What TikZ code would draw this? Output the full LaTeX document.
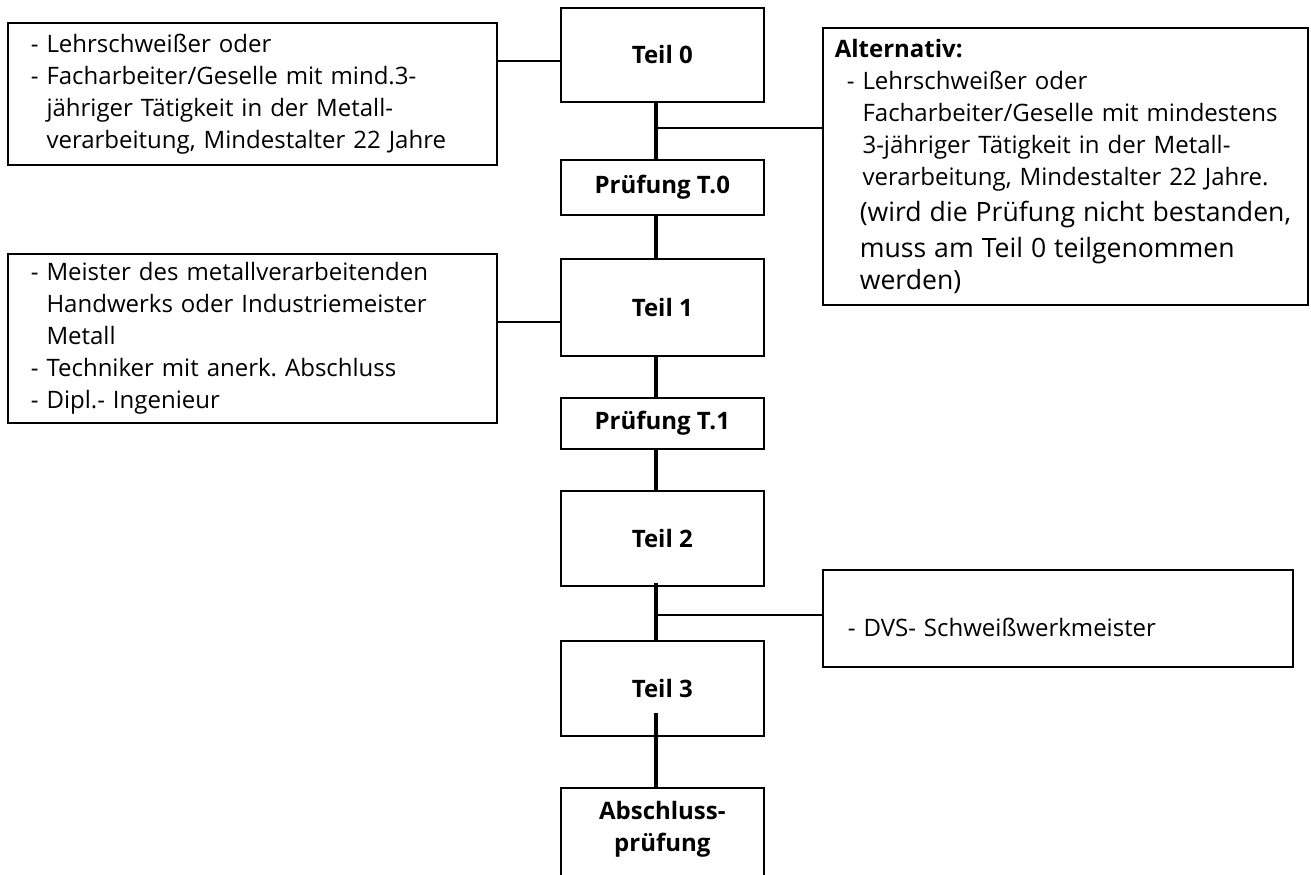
\documentclass[tikz,border=0pt]{standalone}
\usepackage{fontspec}
\setmainfont{Open Sans}
\frenchspacing
\newcommand{\weiter}{\hphantom{-\ }}
\tikzset{
  stage/.style={draw, line width=0.8pt, font=\fontsize{12}{16}\selectfont\bfseries,
    anchor=north west, inner sep=0pt, minimum width=101.5pt, align=center},
  info/.style={draw, line width=0.8pt, font=\fontsize{12}{16}\selectfont,
    anchor=north west, align=left, inner ysep=0pt},
  spine/.style={line width=2pt},
  branch/.style={line width=1pt},
}
\begin{document}
\begin{tikzpicture}[x=0.5pt,y=-0.5pt]
  \clip (0,0) rectangle (1311,874);
  % main column: parts and exams
  \node[stage, minimum height=47pt]   (t0) at (560,7)   {Teil 0};
  \node[stage, minimum height=27.5pt] (p0) at (560,159) {Prüfung T.0};
  \node[stage, minimum height=48.5pt] (t1) at (560,258) {Teil 1};
  \node[stage, minimum height=25.5pt] (p1) at (560,397) {Prüfung T.1};
  \node[stage, minimum height=47.5pt] (t2) at (560,490) {Teil 2};
  \node[stage, minimum height=47.5pt] (t3) at (560,640) {Teil 3};
  \node[stage, minimum height=48pt, text depth=9pt] (ab) at (560,787) {Abschluss-\\prüfung};
  % admission requirements
  \node[info, inner xsep=11.5pt, text width=221.5pt, minimum height=71pt] (l0) at (7,22)
    {- Lehrschweißer oder\\
     - Facharbeiter/Geselle mit mind.3-\\
     \weiter jähriger Tätigkeit in der Metall-\\
     \weiter verarbeitung, Mindestalter 22 Jahre};
  \node[info, inner xsep=11.5pt, text width=221.5pt, minimum height=84.5pt] (l1) at (7,253)
    {- Meister des metallverarbeitenden\\
     \weiter Handwerks oder Industriemeister\\
     \weiter Metall\\
     - Techniker mit anerk. Abschluss\\
     - Dipl.- Ingenieur};
  \node[info, inner xsep=6pt, text width=230.5pt, minimum height=138.5pt] (alt) at (822,27)
    {\textbf{Alternativ:}\\
     \hspace*{6pt}- Lehrschweißer oder\\
     \hspace*{6pt}\weiter Facharbeiter/Geselle mit mindestens\\
     \hspace*{6pt}\weiter 3-jähriger Tätigkeit in der Metall-\\
     \hspace*{6pt}\weiter verarbeitung, Mindestalter 22 Jahre.\par
     \fontsize{13.3}{18}\selectfont
     \hspace*{12.5pt}(wird die Prüfung nicht bestanden,\\
     \hspace*{12.5pt}muss am Teil 0 teilgenommen\\
     \hspace*{12.5pt}werden)};
  \node[info, inner xsep=12.5pt, text width=210pt, minimum height=48.5pt,
    text height=18pt, text depth=0pt] (dvs) at (822,569) {- DVS- Schweißwerkmeister};
  % spine between the stages
  \coordinate (sp) at (656,0);
  \draw[spine] (sp |- t0.south) -- (sp |- p0.north);
  \draw[spine] (sp |- p0.south) -- (sp |- t1.north);
  \draw[spine] (sp |- t1.south) -- (sp |- p1.north);
  \draw[spine] (sp |- p1.south) -- (sp |- t2.north);
  \draw[spine] (sp |- t2.south) ++(0,-4) -- (sp |- t3.north);
  \draw[spine] (sp |- t3.south) ++(0,-24) -- (sp |- ab.north);
  % side branches
  \coordinate (k0) at (0,61);
  \coordinate (k1) at (0,322);
  \coordinate (ka) at (0,128);
  \coordinate (kd) at (0,615);
  \draw[branch] (l0.east |- k0) -- (t0.west |- k0);
  \draw[branch] (l1.east |- k1) -- (t1.west |- k1);
  \draw[branch] (sp |- ka) -- (alt.west |- ka);
  \draw[branch] (sp |- kd) -- (dvs.west |- kd);
\end{tikzpicture}
\end{document}
